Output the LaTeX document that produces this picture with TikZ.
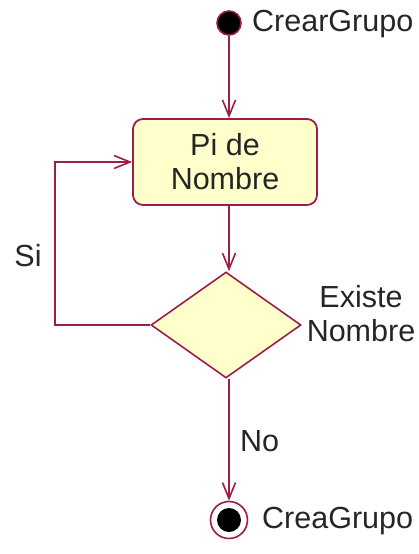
\documentclass[tikz,border=0pt]{standalone}
\usepackage{fontspec}
\setmainfont{Liberation Sans}
\usetikzlibrary{arrows.meta,positioning,shapes.geometric}
\definecolor{umlborde}{RGB}{160,28,72}
\definecolor{umlfondo}{RGB}{255,255,204}
\tikzset{
  accion/.style={draw=umlborde, fill=umlfondo, rectangle, rounded corners=10pt, line width=1.8pt, minimum width=184pt, minimum height=86pt, align=center, inner sep=2pt},
  decision/.style={draw=umlborde, fill=umlfondo, diamond, line width=1.6pt, minimum width=150pt, minimum height=106pt, inner sep=0pt},
  inicio/.style={draw=umlborde, fill=black, circle, line width=1.6pt, minimum size=24pt, inner sep=0pt},
  finalext/.style={draw=umlborde, fill=white, circle, line width=1.6pt, minimum size=37pt, inner sep=0pt},
  finalint/.style={fill=black, circle, minimum size=24pt, inner sep=0pt},
  flujo/.style={draw=umlborde, line width=1.8pt, -{Straight Barb[length=16pt,width=13pt,line width=1.6pt]}},
  etq/.style={font=\fontsize{30.5}{34}\selectfont, text=black!85, inner sep=0pt, align=center},
}
\begin{document}
\begin{tikzpicture}[x=1pt,y=-1pt]
\useasboundingbox (0,0) rectangle (418,554);
\node[inicio] (ini) at (229,23) {};
\node[etq, anchor=west] (tini) at (252,24) {CrearGrupo};
\node[accion, etq] (pide) at (225,162) {Pi de\\Nombre};
\node[decision] (existe) at (226,325) {};
\node[etq] (texiste) at (361,314) {Existe\\Nombre};
\coordinate (codo1) at (55,325);
\coordinate (codo2) at (55,162);
\node[etq] (tsi) at (28,256) {Si};
\node[finalext] (fin) at (229,520) {};
\node[finalint] (finc) at (fin) {};
\node[etq, anchor=west] (tfin) at (262,521) {CreaGrupo};
\node[etq, anchor=west] (tno) at (240,441) {No};
\draw[flujo] (ini) -- (ini |- pide.north);
\draw[flujo] (ini |- pide.south) -- (ini |- existe.north);
\draw[flujo] (existe.west) -- (codo1) -- (codo2) -- (pide.west);
\draw[flujo] (ini |- existe.south) -- (fin);
\end{tikzpicture}
\end{document}
